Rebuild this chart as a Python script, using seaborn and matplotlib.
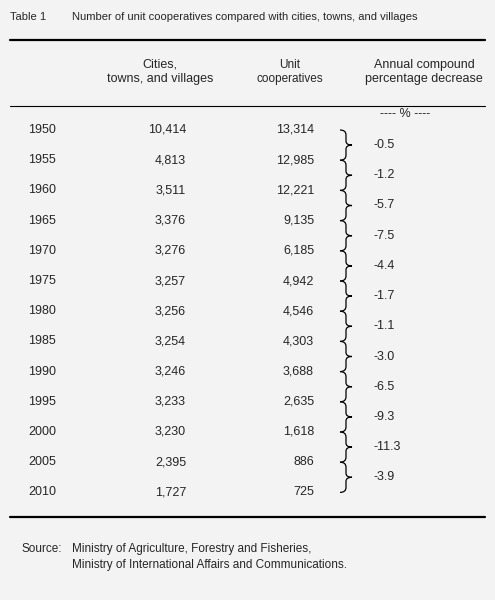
import matplotlib
matplotlib.use("Agg")
import matplotlib.pyplot as plt
import seaborn as sns
from matplotlib.path import Path
from matplotlib.patches import PathPatch

years = [1950, 1955, 1960, 1965, 1970, 1975, 1980, 1985, 1990, 1995, 2000, 2005, 2010]
cities = ["10,414", "4,813", "3,511", "3,376", "3,276", "3,257", "3,256",
          "3,254", "3,246", "3,233", "3,230", "2,395", "1,727"]
coops = ["13,314", "12,985", "12,221", "9,135", "6,185", "4,942", "4,546",
         "4,303", "3,688", "2,635", "1,618", "886", "725"]
decrease = ["-0.5", "-1.2", "-5.7", "-7.5", "-4.4", "-1.7", "-1.1",
            "-3.0", "-6.5", "-9.3", "-11.3", "-3.9"]

sns.set_style("white")
plt.rcParams['font.family'] = ['Liberation Sans', 'DejaVu Sans']

fig = plt.figure(figsize=(4.95, 6.0), dpi=100, facecolor="#f3f3f3")
ax = fig.add_axes([0, 0, 1, 1])
ax.set_facecolor("#f3f3f3")
ax.set_xlim(0, 495)
ax.set_ylim(600, 0)
ax.axis("off")

fs = 9
ax.text(10, 17, "Table 1", fontsize=8, va="center")
ax.text(72, 17, "Number of unit cooperatives compared with cities, towns, and villages",
        fontsize=8, va="center")

ax.plot([10, 485], [40, 40], color="black", lw=1.6)
ax.plot([10, 485], [106, 106], color="black", lw=0.8)
ax.plot([10, 485], [517, 517], color="black", lw=1.6)

ax.text(160, 72, "Cities,\ntowns, and villages", fontsize=fs, ha="center", va="center",
        linespacing=1.3)
ax.text(290, 72, "Unit\ncooperatives", fontsize=8.5, ha="center", va="center", linespacing=1.3)
ax.text(424, 72, "Annual compound\npercentage decrease", fontsize=fs, ha="center",
        va="center", linespacing=1.3)
ax.text(405, 114, "---- % ----", fontsize=fs, ha="center", va="center")

y0, dy = 130, 30.2
for i, (yr, c, u) in enumerate(zip(years, cities, coops)):
    y = y0 + i * dy
    ax.text(28, y, str(yr), fontsize=fs, va="center")
    ax.text(186, y, c, fontsize=fs, ha="right", va="center")
    ax.text(314, y, u, fontsize=fs, ha="right", va="center")

for i, d in enumerate(decrease):
    ya = y0 + i * dy
    yb = ya + dy
    mid = (ya + yb) / 2
    verts = [(340, ya), (346, ya), (346, ya + 5), (346, mid - 4), (346, mid), (352, mid),
             (346, mid), (346, mid + 4), (346, yb - 5), (346, yb), (340, yb)]
    codes = [Path.MOVETO, Path.CURVE3, Path.CURVE3, Path.LINETO, Path.CURVE3, Path.CURVE3,
             Path.CURVE3, Path.CURVE3, Path.LINETO, Path.CURVE3, Path.CURVE3]
    ax.add_patch(PathPatch(Path(verts, codes), fill=False, lw=0.9, color="black"))
    ax.text(373, mid, d, fontsize=fs, va="center")

ax.text(22, 549, "Source:", fontsize=8.5, va="center")
ax.text(72, 549, "Ministry of Agriculture, Forestry and Fisheries,", fontsize=8.5, va="center")
ax.text(72, 565, "Ministry of International Affairs and Communications.", fontsize=8.5,
        va="center")

fig.savefig("out.png", dpi=100, facecolor=fig.get_facecolor())
